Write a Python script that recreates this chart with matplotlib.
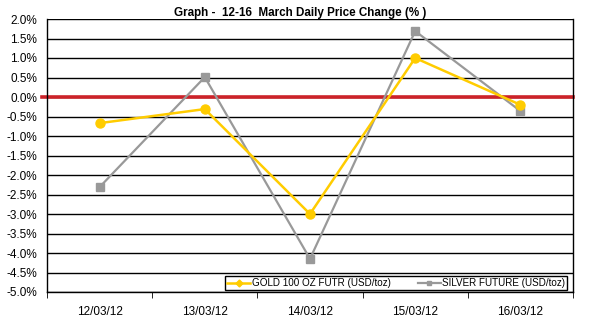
import matplotlib
matplotlib.use("Agg")
import matplotlib.pyplot as plt
from matplotlib.lines import Line2D

plt.rcParams['font.family'] = ['Liberation Sans', 'DejaVu Sans']

dates = ["12/03/12", "13/03/12", "14/03/12", "15/03/12", "16/03/12"]
gold = [-0.67, -0.31, -3.00, 1.00, -0.20]
silver = [-2.31, 0.51, -4.15, 1.69, -0.36]
yticks = [2.0, 1.5, 1.0, 0.5, 0.0, -0.5, -1.0, -1.5, -2.0, -2.5, -3.0, -3.5, -4.0, -4.5, -5.0]

fig = plt.figure(figsize=(6.13, 3.24), dpi=100)
ax = fig.add_axes([47/613, 1 - 292/324, (573-47)/613, (292-19)/324])

x = list(range(len(dates)))
gold_c = '#FFCC00'
silver_c = '#999999'

for yv in yticks:
    ax.axhline(yv, color='black', lw=1.0, zorder=1)
ax.axhline(0, color='#CC2229', lw=2.6, zorder=2, xmin=-0.01, clip_on=False)

ax.plot(x, silver, color=silver_c, lw=1.6, marker='s', ms=5.5, zorder=3)
ax.plot(x, gold, color=gold_c, lw=1.8, marker='o', ms=6.5, zorder=4)

ax.set_xlim(-0.5, len(dates) - 0.5)
ax.set_ylim(-5.0, 2.0)
ax.set_yticks(yticks)
ax.set_yticklabels([f"{v:.1f}%" for v in yticks], fontsize=8.5)
ax.set_xticks(x)
ax.set_xticklabels(dates, fontsize=8.5)
ax.tick_params(axis='x', length=0, pad=10)
ax.set_xticks([i + 0.5 for i in range(-1, len(dates))], minor=True)
ax.tick_params(axis='x', which='minor', length=4, direction='out')
ax.tick_params(axis='y', length=0, pad=7)

ax.spines['top'].set_visible(False)
ax.spines['left'].set_linewidth(1.0)
ax.spines['bottom'].set_linewidth(1.0)
ax.spines['right'].set_linewidth(1.0)

fig.text(300/613, 1 - 13/324, "Graph -  12-16  March Daily Price Change (% )",
         ha='center', va='center', fontsize=8.4, fontweight='bold')

handles = [Line2D([0], [0], color=gold_c, lw=1.8, marker='D', ms=3.5),
           Line2D([0], [0], color=silver_c, lw=1.6, marker='s', ms=3.5)]
leg = ax.legend(handles, ["GOLD 100 OZ FUTR (USD/toz)", "SILVER FUTURE (USD/toz)"],
                loc='lower right', bbox_to_anchor=(0.989, 0.007), ncol=2, fontsize=7.1,
                frameon=True, fancybox=False, edgecolor='black', borderpad=0.2,
                handlelength=2.3, handletextpad=0.15, columnspacing=2.8,
                borderaxespad=0)
leg.get_frame().set_linewidth(1.0)
leg.get_frame().set_facecolor('white')
leg.get_frame().set_alpha(1)

fig.savefig("out.png", dpi=100)
